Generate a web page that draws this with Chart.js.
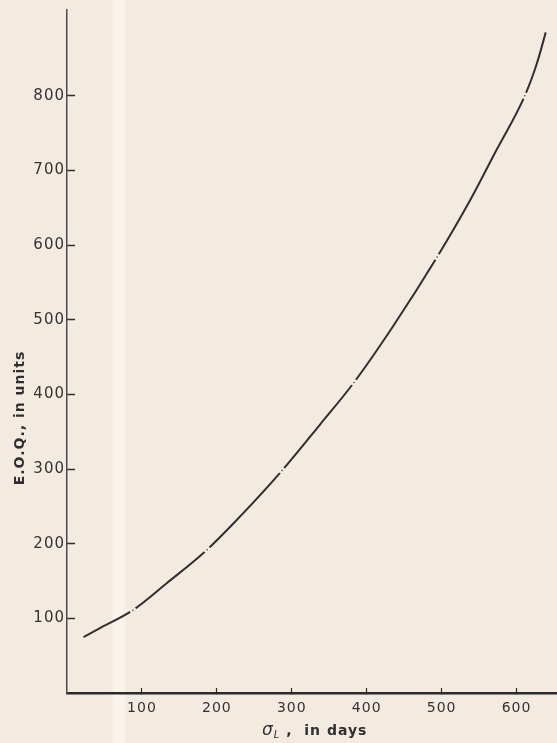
<!DOCTYPE html>
<html>
<head>
<meta charset="utf-8">
<script src="https://cdn.jsdelivr.net/npm/chart.js@4"></script>
<style>
  html, body {
    margin: 0;
    padding: 0;
    width: 557px;
    height: 743px;
    overflow: hidden;
    /* scanned page: cream paper with a lighter fold band */
    background: linear-gradient(90deg, #f3ebdf 0px, #f3ebdf 111px, #faf5ec 115px, #faf5ec 123px, #f3ebdf 127px, #f3ebdf 557px);
  }
  canvas { display: block; }
</style>
</head>
<body>
<canvas id="eoq-chart" width="557" height="743"></canvas>
<script>
"use strict";

// sigma_L (days) along the drawn curve
const curveDays = [22, 44, 88, 133, 187, 222, 287, 338, 383, 435, 494, 538, 573, 611, 627, 639];
// E.O.Q. (units) along the drawn curve
const curveEoq = [75, 87, 111, 147, 192, 227, 298, 360, 416, 491, 584, 660, 727, 800, 843, 885];

// the small plotted dots on the curve
const markDays = [88, 187, 287, 383, 494, 611];
const markEoq = [111, 192, 298, 416, 584, 800];

const xTicks = [100, 200, 300, 400, 500, 600];
const yTicks = [100, 200, 300, 400, 500, 600, 700, 800];

const yTitle = "E.O.Q., in units";
const xTitleSymbol = "\u03c3";
const xTitleSub = "L";
const xTitleRest = " ,  in days";

(function () {
  const ink = "#2f2f33";
  const paper = "#f3ebdf";

  function toPoints(xs, ys) {
    return xs.map((x, i) => ({ x: x, y: ys[i] }));
  }

  // wider spacing for the tick labels, like the lettering on the page
  const spacingPlugin = {
    id: "scanSpacing",
    beforeDraw(chart) {
      chart.ctx.letterSpacing = "1px";
    },
  };

  // axis titles are hand placed like on the scanned page
  const titlesPlugin = {
    id: "scanTitles",
    afterDraw(chart) {
      const ctx = chart.ctx;
      const area = chart.chartArea;
      ctx.save();
      ctx.fillStyle = ink;
      ctx.letterSpacing = "1px";

      // y title, rotated
      ctx.font = "bold 14px 'DejaVu Sans'";
      ctx.translate(20, area.bottom - 275);
      ctx.rotate(-Math.PI / 2);
      ctx.textAlign = "center";
      ctx.textBaseline = "middle";
      ctx.fillText(yTitle, 0, 0);
      ctx.setTransform(1, 0, 0, 1, 0, 0);

      // x title: sigma with subscript L
      let x = 262;
      const base = 735;
      ctx.textAlign = "left";
      ctx.textBaseline = "alphabetic";
      ctx.font = "italic 17px 'DejaVu Sans'";
      ctx.fillText(xTitleSymbol, x, base);
      x += ctx.measureText(xTitleSymbol).width;
      ctx.font = "italic 10px 'DejaVu Sans'";
      ctx.fillText(xTitleSub, x, base + 3);
      x += ctx.measureText(xTitleSub).width;
      ctx.font = "bold 14px 'DejaVu Sans'";
      ctx.fillText(xTitleRest, x, base);
      ctx.restore();
    },
  };

  function tickLabel(list) {
    return function (value) {
      return list.indexOf(value) !== -1 ? String(value) : "";
    };
  }

  function tickColor(list) {
    return function (c) {
      return c.tick && list.indexOf(c.tick.value) !== -1 ? ink : "rgba(0,0,0,0)";
    };
  }

  const ctx = document.getElementById("eoq-chart").getContext("2d");

  new Chart(ctx, {
    type: "line",
    data: {
      datasets: [
        {
          data: toPoints(curveDays, curveEoq),
          borderColor: ink,
          borderWidth: 2,
          pointRadius: 0,
          fill: false,
          cubicInterpolationMode: "monotone",
          order: 2,
        },
        {
          data: toPoints(markDays, markEoq),
          showLine: false,
          pointRadius: 2,
          pointBackgroundColor: ink,
          pointBorderColor: paper,
          pointBorderWidth: 2.5,
          order: 1,
        },
      ],
    },
    options: {
      responsive: false,
      animation: false,
      layout: {
        autoPadding: false,
        padding: { top: 10, right: 0, bottom: 0, left: 0 },
      },
      plugins: {
        legend: { display: false },
        tooltip: { enabled: false },
      },
      scales: {
        x: {
          type: "linear",
          min: 0,
          max: 654,
          afterFit: (scale) => {
            scale.height = 50;
            scale.paddingLeft = 0;
            scale.paddingRight = 0;
          },
          border: { display: true, color: "#2a2a2e", width: 2.5 },
          grid: {
            drawOnChartArea: false,
            drawTicks: true,
            tickLength: -5,
            tickColor: tickColor(xTicks),
            tickWidth: 1.2,
          },
          ticks: {
            stepSize: 100,
            includeBounds: false,
            autoSkip: false,
            maxRotation: 0,
            padding: 12,
            color: "#333336",
            font: { family: "'DejaVu Sans'", size: 14 },
            callback: tickLabel(xTicks),
          },
        },
        y: {
          type: "linear",
          min: 0,
          max: 915,
          afterFit: (scale) => {
            scale.width = 67;
            scale.paddingTop = 0;
            scale.paddingBottom = 0;
          },
          border: { display: true, color: "#4a4a4f", width: 1.5 },
          grid: {
            drawOnChartArea: false,
            drawTicks: true,
            tickLength: -8,
            tickColor: tickColor(yTicks),
            tickWidth: 1.5,
          },
          ticks: {
            stepSize: 100,
            includeBounds: false,
            autoSkip: false,
            padding: 10,
            color: "#333336",
            font: { family: "'DejaVu Sans'", size: 15 },
            callback: tickLabel(yTicks),
          },
        },
      },
    },
    plugins: [spacingPlugin, titlesPlugin],
  });
})();
</script>
</body>
</html>
